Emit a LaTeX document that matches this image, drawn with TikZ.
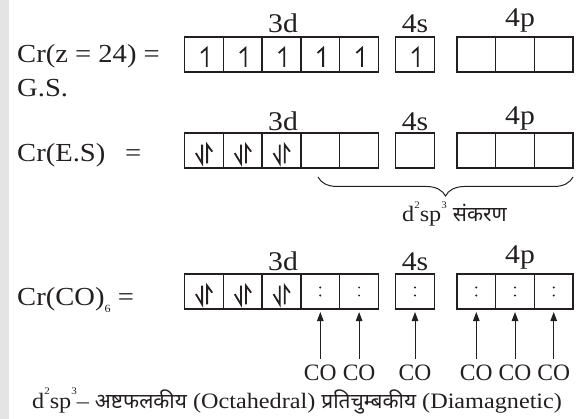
\documentclass[tikz,border=0pt]{standalone}
\usepackage{fontspec}
\setmainfont{Liberation Serif}[FakeStretch=1.1]
\newfontfamily\narrowserif{Liberation Serif}
\newfontfamily\deva[Script=Devanagari,Scale=0.95]{Noto Sans}
\usetikzlibrary{arrows.meta,decorations.pathreplacing,calc}
\definecolor{ink}{HTML}{231F20}
\definecolor{strip}{HTML}{E4E4E4}
\tikzset{
  orb/.style={draw=ink, line width=1.3pt, minimum width=38.8pt, minimum height=35pt,
    inner sep=0pt, outer sep=0pt},
  lbl/.style={anchor=base, inner sep=0pt, text=ink, font=\fontsize{27}{32}\selectfont},
  lhs/.style={anchor=base west, inner sep=0pt, text=ink, font=\fontsize{26}{30}\selectfont},
  colbl/.style={anchor=base, inner sep=0pt, text=ink, font=\narrowserif\fontsize{23.5}{26}\selectfont},
  note/.style={anchor=base west, inner sep=0pt, text=ink, font=\fontsize{22}{26}\selectfont},
  harp/.style={draw=ink, line width=1.8pt, line join=miter},
  conn/.style={draw=ink, line width=1pt, -{Triangle[length=9pt,width=6.5pt]},
    shorten <=5pt, shorten >=3pt},
  brc/.style={draw=ink, line width=1pt, decorate,
    decoration={brace, mirror, amplitude=19pt}},
}
% small raised and lowered figures
\newcommand\upfig[1]{\raisebox{0.6em}{\fontsize{10}{10}\selectfont #1}}
\newcommand\dnfig[1]{\raisebox{-0.28em}{\fontsize{11}{11}\selectfont #1}}
% one electron, spin up
\newcommand\spinone[1]{\draw[harp] ($(#1)+(2.8,12.5)$) -- ($(#1)+(2.8,-6.5)$) -- ($(#1)+(-2.8,-1.5)$);}
% paired electrons
\newcommand\spinpair[1]{%
  \draw[harp] ($(#1)+(-8,2.6)$) -- ($(#1)+(-1.8,12.8)$) -- ($(#1)+(-1.8,-5.8)$);
  \draw[harp] ($(#1)+(3.2,12.8)$) -- ($(#1)+(3.2,-5.8)$) -- ($(#1)+(8.4,1.2)$);}
% lone pair donated by a ligand
\newcommand\lonepair[1]{%
  \fill[ink] ($(#1)+(0,-4)$) circle (1.1pt);
  \fill[ink] ($(#1)+(0,4)$) circle (1.1pt);}
\begin{document}
\begin{tikzpicture}[x=1pt,y=-1pt]
\path[use as bounding box] (0,0) rectangle (585,419);
\fill[strip] (0,0) rectangle (9,419);

% orbital boxes: 3d, 4s, 4p for the three configurations
\foreach \r/\y in {1/54.5, 2/150.5, 3/291.5} {
  \foreach \i/\x in {1/203.9, 2/242.7, 3/281.5, 4/320.3, 5/359.1}
    \node[orb] (r\r d\i) at (\x,\y) {};
  \node[orb] (r\r s) at (415,\y) {};
  \foreach \i/\x in {1/476.3, 2/515, 3/553.7}
    \node[orb] (r\r p\i) at (\x,\y) {};
}

% subshell labels
\node[lbl] (t1d) at (283,33) {3d};
\node[lbl] (t1s) at (415,33) {4s};
\node[lbl] (t1p) at (520,26.5) {4p};
\node[lbl] (t2d) at (283,131) {3d};
\node[lbl] (t2s) at (415,131) {4s};
\node[lbl] (t2p) at (520,124.5) {4p};
\node[lbl] (t3d) at (283,270) {3d};
\node[lbl] (t3s) at (415,270) {4s};
\node[lbl] (t3p) at (520,263.5) {4p};

% left-hand labels
\node[lhs] (gs) at (17,63) {Cr(z = 24) =};
\node[lhs] (gs2) at (17,97) {G.S.};
\node[lhs] (es) at (17,162) {Cr(E.S)};
\node[lhs] (eseq) at (125,162) {=};
\node[lhs] (cx) at (17,305) {Cr(CO)\dnfig{6} =};

% ground state
\foreach \b in {r1d1,r1d2,r1d3,r1d4,r1d5,r1s} {\spinone{\b}}
% excited state
\foreach \b in {r2d1,r2d2,r2d3} {\spinpair{\b}}
% complex
\foreach \b in {r3d1,r3d2,r3d3} {\spinpair{\b}}
\foreach \b in {r3d4,r3d5,r3s,r3p1,r3p2,r3p3} {\lonepair{\b}}

% hybrid orbitals
\coordinate (bra) at (318,177);
\coordinate (brb) at (573,177);
\draw[brc] (bra) -- (brb);
\node[note] (hyb) at (402,222) {d\upfig{2}sp\upfig{3} {\deva संकरण}};

% ligands
\foreach \n/\b in {1/r3d4, 2/r3d5, 3/r3s, 4/r3p1, 5/r3p2, 6/r3p3} {
  \node[colbl] (co\n) at (\b |- 0,380) {CO};
  \draw[conn] (co\n.north) -- (\b.south);
}

% summary line
\node[note] (foot) at (32,408)
  {d\upfig{2}sp\upfig{3}– {\deva अष्टफलकीय} (Octahedral) {\deva प्रतिचुम्बकीय} (Diamagnetic)};
\end{tikzpicture}
\end{document}
